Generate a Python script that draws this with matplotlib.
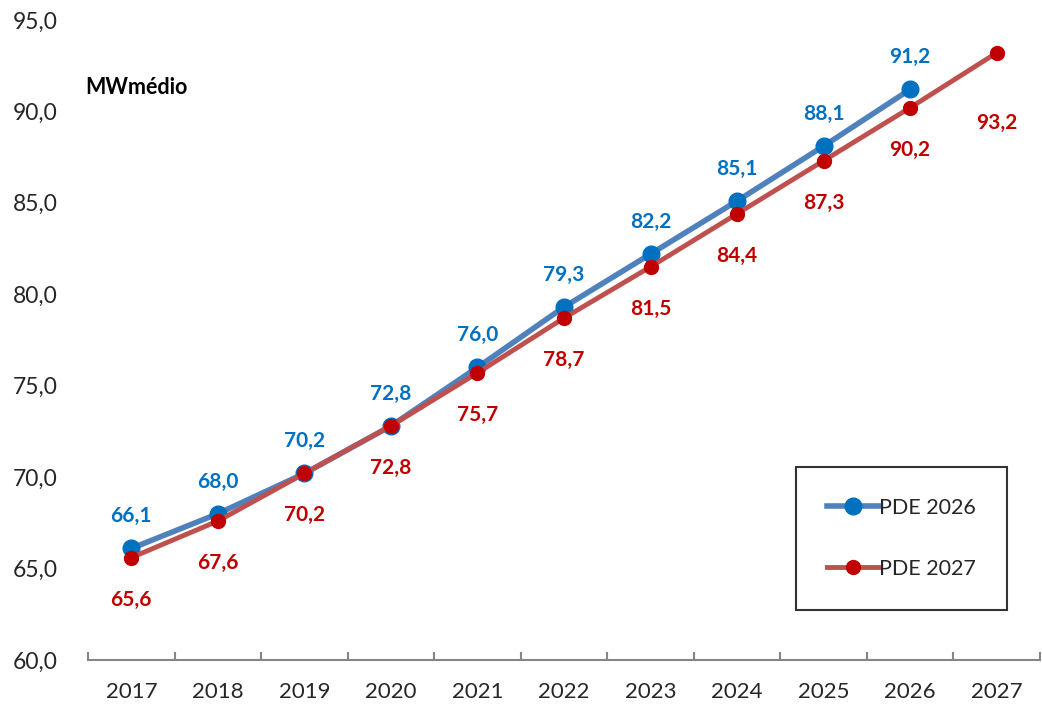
import matplotlib
matplotlib.use("Agg")
import matplotlib.pyplot as plt
from matplotlib.ticker import FuncFormatter

years = ["2017", "2018", "2019", "2020", "2021", "2022", "2023", "2024", "2025", "2026", "2027"]
pde2026 = [66.1, 68.0, 70.2, 72.8, 76.0, 79.3, 82.2, 85.1, 88.1, 91.2]
pde2027 = [65.6, 67.6, 70.2, 72.8, 75.7, 78.7, 81.5, 84.4, 87.3, 90.2, 93.2]
yticks = [60, 65, 70, 75, 80, 85, 90, 95]

plt.rcParams['font.family'] = ['Lato', 'DejaVu Sans']

fig = plt.figure(figsize=(10.42, 7.11), dpi=100)
ax = fig.add_axes([0.0845, 0.0717, 0.9135, 0.9003])

x26 = list(range(len(pde2026)))
x27 = list(range(len(pde2027)))

ax.plot(x26, pde2026, color='#4F81BD', lw=4, marker='o', ms=12,
        markerfacecolor='#0070C0', markeredgecolor='#0070C0', label='PDE 2026', zorder=3)
ax.plot(x27, pde2027, color='#C0504D', lw=3.5, marker='o', ms=10,
        markerfacecolor='#C00000', markeredgecolor='#C00000', label='PDE 2027', zorder=4)

for x, v in zip(x26, pde2026):
    ax.annotate(f"{v:.1f}".replace('.', ','), (x, v), xytext=(0, 16), textcoords='offset points',
                ha='center', va='bottom', color='#0070C0', fontsize=15, fontweight='bold')
red_off = [-23] * 10 + [-43]
for x, v, o in zip(x27, pde2027, red_off):
    ax.annotate(f"{v:.1f}".replace('.', ','), (x, v), xytext=(0, o), textcoords='offset points',
                ha='center', va='top', color='#C00000', fontsize=15, fontweight='bold')

ax.set_xlim(-0.5, len(years) - 0.5)
ax.set_ylim(60, 95)
ax.set_yticks(yticks)
ax.yaxis.set_major_formatter(FuncFormatter(lambda v, p: f"{v:.1f}".replace('.', ',')))
ax.set_xticks(range(len(years)))
ax.set_xticklabels(years)
ax.set_xticks([i - 0.5 for i in range(len(years) + 1)], minor=True)
ax.tick_params(axis='x', which='major', length=0, pad=16, labelsize=16, labelcolor='#262626')
ax.tick_params(axis='x', which='minor', length=6, width=1.5, color='#868686', direction='in')
ax.tick_params(axis='y', length=0, pad=22, labelsize=16.5, labelcolor='#262626')
for s in ['left', 'right', 'top']:
    ax.spines[s].set_visible(False)
ax.spines['bottom'].set_color('#868686')
ax.spines['bottom'].set_linewidth(1.5)

ax.text(-0.003, 0.895, "MWmédio", transform=ax.transAxes, fontsize=15.5, fontweight='bold',
        color='#000000', ha='left', va='center')

leg = ax.legend(loc='lower right', bbox_to_anchor=(0.965, 0.078), fontsize=15.5,
                frameon=True, fancybox=False, edgecolor='black', labelspacing=1.9,
                borderpad=1.45, handlelength=2.4, handletextpad=0.0, borderaxespad=0)
leg.get_frame().set_linewidth(1.5)
for t in leg.get_texts():
    t.set_color('#262626')

fig.savefig("out.png", dpi=100)
